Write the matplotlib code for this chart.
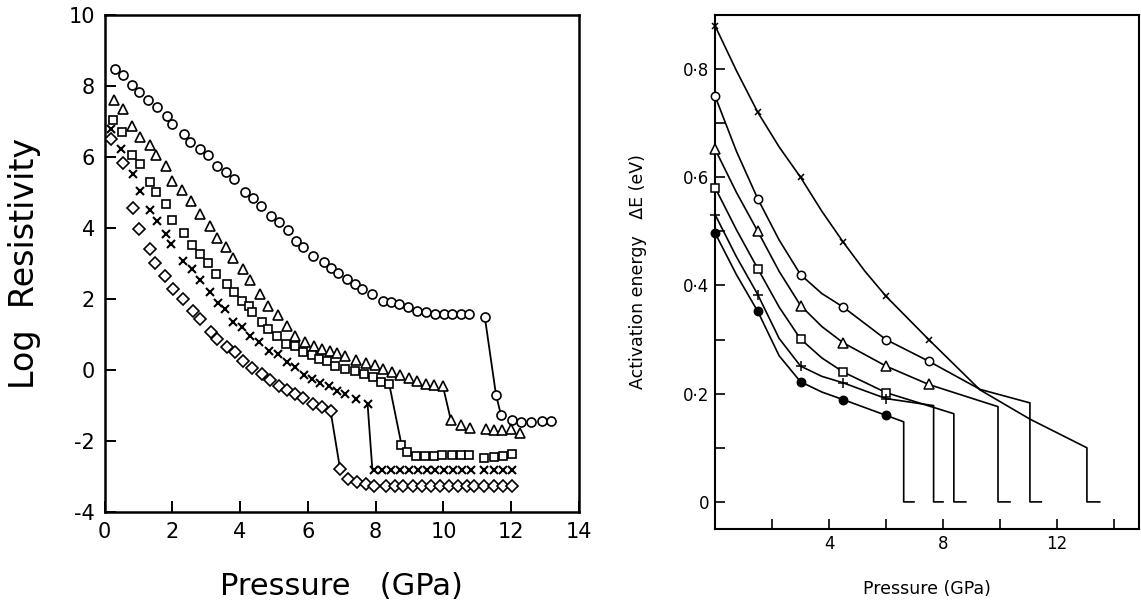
import numpy as np
import matplotlib.pyplot as plt

plt.rcParams['font.family'] = ['DejaVu Sans']
plt.rcParams['axes.unicode_minus'] = False

# ---- left panel: log resistivity vs pressure (GPa) ----
circ_x = [0.32, 0.55, 0.81, 1.01, 1.28, 1.56, 1.83, 1.99, 2.34, 2.52, 2.81, 3.05, 3.33, 3.57,
          3.83, 4.14, 4.37, 4.61, 4.92, 5.16, 5.40, 5.65, 5.87, 6.14, 6.47, 6.68, 6.90, 7.14,
          7.39, 7.61, 7.89, 8.21, 8.46, 8.70, 8.94, 9.23, 9.49, 9.76, 10.01, 10.25, 10.53, 10.76,
          11.22, 11.55, 11.70, 12.01, 12.30, 12.58, 12.91, 13.18]
circ_y = [8.48, 8.31, 8.03, 7.83, 7.61, 7.41, 7.15, 6.93, 6.65, 6.42, 6.23, 6.06, 5.75, 5.58,
          5.38, 5.01, 4.85, 4.62, 4.34, 4.17, 3.94, 3.63, 3.46, 3.21, 3.04, 2.87, 2.73, 2.56,
          2.42, 2.28, 2.14, 1.94, 1.92, 1.86, 1.77, 1.66, 1.63, 1.58, 1.58, 1.58, 1.58, 1.58,
          1.49, -0.70, -1.28, -1.40, -1.46, -1.47, -1.44, -1.44]
circ_jump_x = [11.22, 11.55, 11.70]
circ_jump_y = [1.49, -0.70, -1.28]

tri_x = [0.27, 0.54, 0.81, 1.05, 1.34, 1.51, 1.81, 1.99, 2.29, 2.56, 2.82, 3.10, 3.33, 3.59,
         3.78, 4.08, 4.30, 4.59, 4.83, 5.11, 5.38, 5.63, 5.92, 6.17, 6.43, 6.65, 6.86, 7.10,
         7.41, 7.72, 7.99, 8.23, 8.47, 8.73, 8.97, 9.22, 9.47, 9.72, 9.98,
         10.22, 10.52, 10.78, 11.24, 11.50, 11.74, 12.00, 12.25]
tri_y = [7.61, 7.35, 6.88, 6.58, 6.35, 6.06, 5.74, 5.34, 5.06, 4.75, 4.41, 4.05, 3.73, 3.46,
         3.17, 2.85, 2.53, 2.14, 1.81, 1.55, 1.25, 0.97, 0.78, 0.69, 0.59, 0.53, 0.47, 0.39,
         0.27, 0.21, 0.15, 0.03, -0.05, -0.14, -0.23, -0.31, -0.40, -0.43, -0.44,
         -1.42, -1.56, -1.64, -1.67, -1.69, -1.70, -1.67, -1.77]
tri_jump_x = [9.98, 10.22]
tri_jump_y = [-0.44, -1.42]

sq_x = [0.25, 0.51, 0.82, 1.04, 1.33, 1.51, 1.82, 2.00, 2.35, 2.57, 2.82, 3.06, 3.30, 3.60,
        3.82, 4.06, 4.25, 4.36, 4.64, 4.83, 5.08, 5.35, 5.62, 5.85, 6.11, 6.34, 6.55, 6.80,
        7.09, 7.39, 7.66, 7.93, 8.16, 8.40,
        8.76, 8.93, 9.20, 9.46, 9.72, 9.97, 10.25, 10.52, 10.76, 11.21, 11.48, 11.76, 12.03]
sq_y = [7.06, 6.71, 6.07, 5.82, 5.30, 5.02, 4.68, 4.22, 3.85, 3.52, 3.26, 3.03, 2.70, 2.42,
        2.21, 1.95, 1.81, 1.64, 1.34, 1.15, 0.97, 0.73, 0.69, 0.52, 0.42, 0.31, 0.26, 0.12,
        0.03, -0.02, -0.11, -0.21, -0.35, -0.40,
        -2.10, -2.32, -2.42, -2.42, -2.41, -2.40, -2.40, -2.40, -2.40, -2.49, -2.46, -2.41, -2.37]
sq_jump_x = [8.40, 8.76]
sq_jump_y = [-0.40, -2.10]

crs_x = [0.20, 0.48, 0.84, 1.05, 1.34, 1.55, 1.81, 1.96, 2.33, 2.57, 2.82, 3.12, 3.35, 3.55,
         3.78, 4.05, 4.29, 4.57, 4.86, 5.11, 5.37, 5.62, 5.88, 6.13, 6.37, 6.62, 6.86, 7.09,
         7.42, 7.76,
         7.94, 8.20, 8.46, 8.72, 8.98, 9.24, 9.50, 9.76, 10.02, 10.28, 10.54, 10.80,
         11.21, 11.48, 11.76, 12.03]
crs_y = [6.80, 6.23, 5.52, 5.05, 4.52, 4.20, 3.83, 3.54, 3.06, 2.86, 2.55, 2.19, 1.90, 1.72,
         1.36, 1.20, 0.97, 0.78, 0.54, 0.45, 0.22, 0.08, -0.15, -0.24, -0.36, -0.45, -0.60, -0.68,
         -0.83, -0.95,
         -2.82, -2.82, -2.82, -2.82, -2.82, -2.82, -2.82, -2.82, -2.82, -2.82, -2.82, -2.82,
         -2.82, -2.82, -2.82, -2.82]
crs_jump_x = [7.76, 7.90]
crs_jump_y = [-0.95, -2.78]

dia_x = [0.19, 0.54, 0.85, 1.03, 1.34, 1.50, 1.77, 2.01, 2.31, 2.60, 2.83, 3.14, 3.33, 3.62,
         3.85, 4.09, 4.34, 4.65, 4.89, 5.14, 5.38, 5.63, 5.87, 6.16, 6.41, 6.67,
         6.95, 7.19, 7.44, 7.70, 7.96, 8.30, 8.56, 8.82, 9.09, 9.36, 9.63, 9.89, 10.16, 10.43,
         10.70, 10.90, 11.21, 11.48, 11.76, 12.03]
dia_y = [6.51, 5.84, 4.58, 3.97, 3.40, 3.03, 2.66, 2.28, 2.01, 1.65, 1.43, 1.08, 0.86, 0.66,
         0.50, 0.26, 0.05, -0.10, -0.28, -0.44, -0.56, -0.68, -0.80, -0.96, -1.05, -1.16,
         -2.79, -3.07, -3.16, -3.21, -3.27, -3.28, -3.28, -3.28, -3.28, -3.28, -3.28, -3.28, -3.28, -3.28,
         -3.28, -3.27, -3.28, -3.28, -3.28, -3.28]
dia_jump_x = [6.67, 6.95]
dia_jump_y = [-1.16, -2.79]

# ---- right panel: activation energy vs pressure ----
de_p = [0, 1.5, 3, 4.5, 6, 7.5]
de_cross = [0.88, 0.72, 0.60, 0.48, 0.38, 0.30]
de_circ = [0.75, 0.56, 0.42, 0.36, 0.30, 0.26]
de_tri = [0.652, 0.50, 0.363, 0.294, 0.251, 0.217]
de_sq = [0.581, 0.431, 0.301, 0.24, 0.202]
de_plus = [0.531, 0.383, 0.251, 0.22, 0.191]
de_dot = [0.497, 0.352, 0.222, 0.189, 0.16]

cross_line_x = [0, 0.75, 1.5, 2.25, 3, 3.75, 4.5, 5.25, 6, 7.5, 9.3, 11.05, 13.05, 13.05, 13.5]
cross_line_y = [0.88, 0.797, 0.72, 0.656, 0.60, 0.537, 0.48, 0.427, 0.38, 0.30, 0.207, 0.153, 0.10, 0, 0]
circ_line_x = [0, 0.75, 1.5, 2.25, 3, 3.75, 4.5, 6, 7.5, 9.3, 11.05, 11.05, 11.45]
circ_line_y = [0.75, 0.648, 0.56, 0.484, 0.42, 0.385, 0.36, 0.30, 0.26, 0.208, 0.183, 0, 0]
tri_line_x = [0, 0.75, 1.5, 2.25, 3, 3.75, 4.5, 6, 7.5, 9.93, 9.93, 10.35]
tri_line_y = [0.652, 0.572, 0.50, 0.426, 0.363, 0.324, 0.294, 0.251, 0.217, 0.176, 0, 0]
sq_line_x = [0, 0.75, 1.5, 2.25, 3, 3.75, 4.5, 6, 8.38, 8.38, 8.8]
sq_line_y = [0.581, 0.503, 0.431, 0.36, 0.301, 0.266, 0.24, 0.202, 0.163, 0, 0]
plus_line_x = [0, 0.75, 1.5, 2.25, 3, 3.75, 4.5, 6, 7.67, 7.67, 8.0]
plus_line_y = [0.531, 0.453, 0.383, 0.302, 0.251, 0.232, 0.22, 0.191, 0.178, 0, 0]
dot_line_x = [0, 0.75, 1.5, 2.25, 3, 3.75, 4.5, 6, 6.62, 6.62, 6.98]
dot_line_y = [0.497, 0.42, 0.352, 0.27, 0.222, 0.203, 0.189, 0.16, 0.148, 0, 0]

fig = plt.figure(figsize=(11.41, 6.08), dpi=100)

# left panel
ax1 = fig.add_axes([0.0916, 0.158, 0.4159, 0.817])
mk = dict(linestyle='none', color='black', markerfacecolor='white', markeredgewidth=1.2)
for jx, jy in [(circ_jump_x, circ_jump_y), (tri_jump_x, tri_jump_y), (sq_jump_x, sq_jump_y),
               (crs_jump_x, crs_jump_y), (dia_jump_x, dia_jump_y)]:
    ax1.plot(jx, jy, color='black', lw=1.3, zorder=2)
ax1.plot(circ_x, circ_y, marker='o', markersize=6.5, zorder=3, **mk)
ax1.plot(tri_x, tri_y, marker='^', markersize=6.5, zorder=3, **mk)
ax1.plot(sq_x, sq_y, marker='s', markersize=6.3, zorder=3, **mk)
ax1.plot(crs_x, crs_y, marker='x', markersize=6, zorder=3,
         linestyle='none', color='black', markeredgewidth=1.5)
ax1.plot(dia_x, dia_y, marker='D', markersize=6.0, zorder=3, **mk)
ax1.set_xlim(0, 14)
ax1.set_ylim(-4, 10)
ax1.set_xticks(range(0, 15, 2))
ax1.set_yticks(range(-4, 11, 2))
ax1.tick_params(direction='in', length=8, width=1.4, labelsize=15, pad=7)
for s in ax1.spines.values():
    s.set_linewidth(1.8)
ax1.set_xlabel('Pressure   (GPa)', fontsize=22, labelpad=22)
ax1.set_ylabel('Log  Resistivity', fontsize=24, labelpad=20)

# right panel
ax2 = fig.add_axes([0.6267, 0.130, 0.3716, 0.8454])
lines = [(cross_line_x, cross_line_y), (circ_line_x, circ_line_y), (tri_line_x, tri_line_y),
         (sq_line_x, sq_line_y), (plus_line_x, plus_line_y), (dot_line_x, dot_line_y)]
for lx, ly in lines:
    ax2.plot(lx, ly, color='black', lw=1.2, zorder=2)
mk2 = dict(linestyle='none', color='black', markeredgewidth=1.1, clip_on=False, zorder=3)
ax2.plot(de_p, de_cross, marker='x', markersize=5, **mk2)
ax2.plot(de_p, de_circ, marker='o', markersize=6, markerfacecolor='white', **mk2)
ax2.plot(de_p, de_tri, marker='^', markersize=7, markerfacecolor='white', **mk2)
ax2.plot(de_p[:5], de_sq, marker='s', markersize=6, markerfacecolor='white', **mk2)
ax2.plot(de_p[:5], de_plus, marker='+', markersize=7, **mk2)
ax2.plot(de_p[:5], de_dot, marker='o', markersize=6, markerfacecolor='black', **mk2)
ax2.set_xlim(0, 14.88)
ax2.set_ylim(-0.05, 0.9)
ax2.set_xticks([2, 4, 6, 8, 10, 12, 14])
ax2.set_xticklabels(['', '4', '', '8', '', '12', ''])
ax2.set_yticks([0, 0.2, 0.4, 0.6, 0.8])
ax2.set_yticklabels(['0', '0·2', '0·4', '0·6', '0·8'])
ax2.set_yticks([0.1, 0.3, 0.5, 0.7], minor=True)
ax2.tick_params(axis='x', direction='in', length=7, width=1.2, labelsize=12, pad=4)
ax2.tick_params(axis='y', which='both', direction='in', length=7, width=1.2, labelsize=12, pad=4)
for s in ax2.spines.values():
    s.set_linewidth(1.5)
ax2.set_xlabel('Pressure (GPa)', fontsize=12.5, labelpad=20)
ax2.set_ylabel('Activation energy   \u0394E (eV)', fontsize=12.5, labelpad=26)

fig.savefig('out.png', dpi=100, facecolor='white')
